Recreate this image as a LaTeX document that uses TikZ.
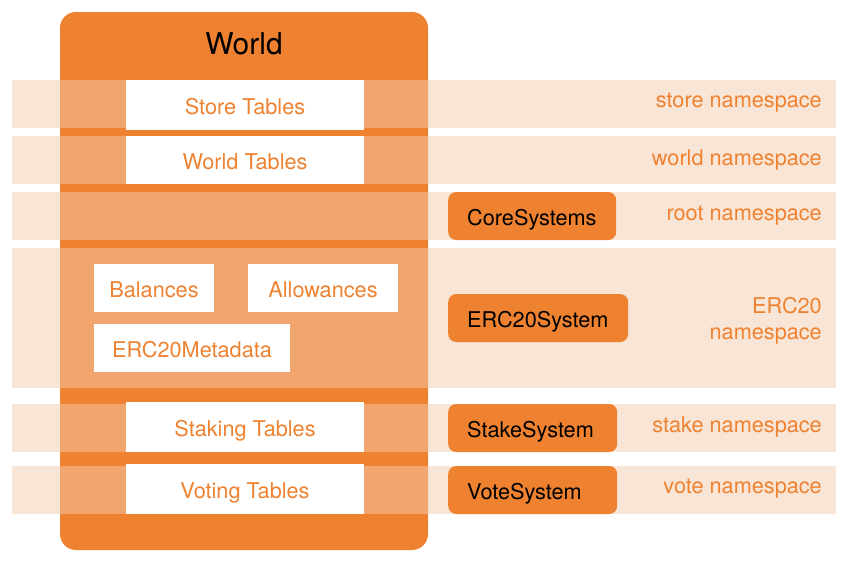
\documentclass[tikz,border=0pt]{standalone}
\usepackage{fontspec}
\setmainfont{TeX Gyre Heros}
\definecolor{wo}{RGB}{238,130,48}
\definecolor{bandc}{RGB}{243,203,173}
\begin{document}
\begin{tikzpicture}[x=1pt,y=-1pt,
  every node/.style={font=\fontsize{21.7}{26.5}\selectfont},
  band/.style={fill=bandc, fill opacity=0.5, draw=none},
  tablebox/.style={fill=white, text=wo, inner sep=0pt, minimum width=238pt, minimum height=48pt,
                   text height=19pt, text depth=0pt},
  smallbox/.style={fill=white, text=wo, inner sep=0pt, minimum height=48pt,
                   text height=19pt, text depth=0pt},
  sysbox/.style={fill=wo, rounded corners=8pt, text=black, inner xsep=19pt, inner ysep=0pt,
                 minimum height=48pt, anchor=west, align=left, text height=19pt, text depth=0pt},
  nslabel/.style={text=wo, anchor=east, align=right, inner sep=0pt}]
\useasboundingbox (0,0) rectangle (854,562);
% world container
\node[fill=wo, rounded corners=16pt, minimum width=368pt, minimum height=538pt, inner sep=0pt] (world) at (244,281) {};
\node[font=\fontsize{30}{34}\selectfont, text=black] (title) at (244,44) {World};
% namespace bands
\fill[band] (12,80) rectangle (836,128);
\fill[band] (12,136) rectangle (836,184);
\fill[band] (12,192) rectangle (836,240);
\fill[band] (12,248) rectangle (836,388);
\fill[band] (12,404) rectangle (836,452);
\fill[band] (12,466) rectangle (836,514);
% tables
\node[tablebox, minimum height=50pt] (store) at (245,105) {Store Tables};
\node[tablebox] (wtables) at (245,160) {World Tables};
\node[tablebox, minimum height=50pt] (staking) at (245,427) {Staking Tables};
\node[tablebox, minimum height=50pt] (voting) at (245,489) {Voting Tables};
\node[smallbox, minimum width=120pt] (balances) at (154,288) {Balances};
\node[smallbox, minimum width=150pt] (allowances) at (323,288) {Allowances};
\node[smallbox, minimum width=196pt] (metadata) at (192,348) {ERC20Metadata};
% systems
\node[sysbox, text width=130pt] (core) at (448,216) {CoreSystems};
\node[sysbox, text width=142pt] (erc) at (448,318) {ERC20System};
\node[sysbox, text width=131pt] (stake) at (448,428) {StakeSystem};
\node[sysbox, text width=131pt] (vote) at (448,490) {VoteSystem};
% namespace labels
\node[nslabel] (nsstore) at (822,103) {store namespace};
\node[nslabel] (nsworld) at (822,159.5) {world namespace};
\node[nslabel] (nsroot) at (822,216) {root namespace};
\node[nslabel] (nserc) at (822,321) {ERC20\\namespace};
\node[nslabel] (nsstake) at (822,427) {stake namespace};
\node[nslabel] (nsvote) at (822,489) {vote namespace};
\end{tikzpicture}
\end{document}
